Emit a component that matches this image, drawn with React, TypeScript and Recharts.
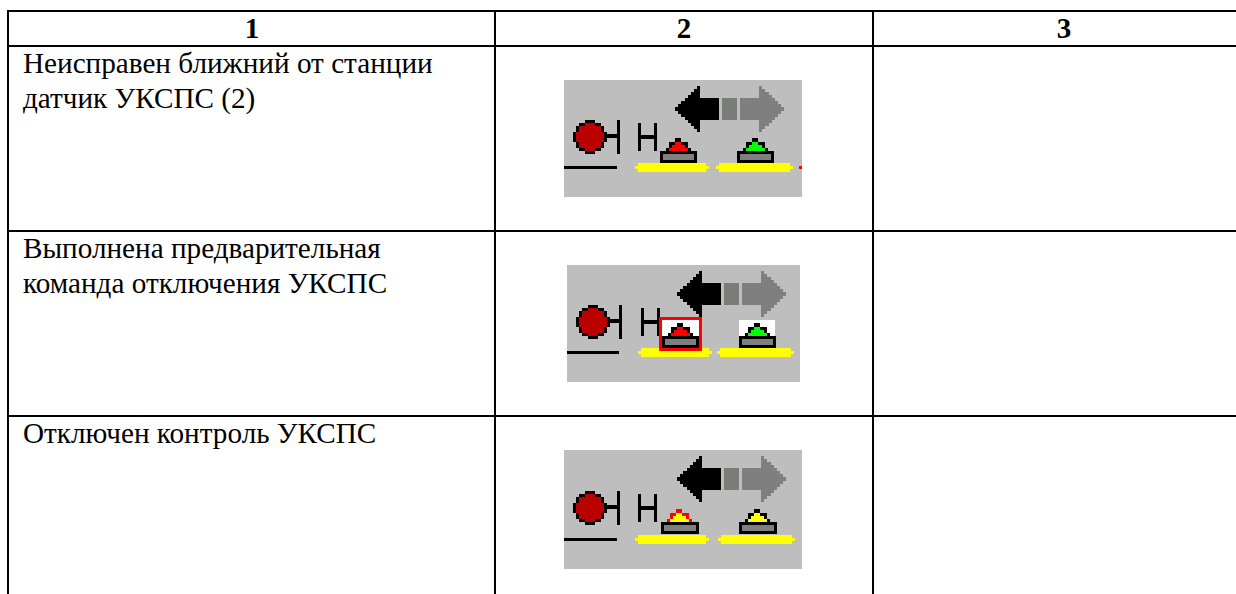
import { ComposedChart, ReferenceLine, Scatter, XAxis, YAxis } from 'recharts'

const WIDTH = 1236
const HEIGHT = 594

const columnEdges = [8, 495, 873]
const rowEdges = [11, 46, 231, 416]
const headers = ['1', '2', '3']
const headerX = [252, 684, 1064]
const headerY = [38, 38, 38]

const rowLabels = [
  'Неисправен ближний от станции',
  'датчик УКСПС (2)',
  'Выполнена предварительная',
  'команда отключения УКСПС',
  'Отключен контроль УКСПС',
]
const labelX = [23, 23, 23, 23, 23]
const labelY = [73, 107.5, 258, 292.5, 443]

const iconStates = ['fault', 'armed', 'off']
const iconX = [683, 683.5, 683]
const iconY = [138.5, 323.5, 509.5]

const headerPoints = headers.map((text, i) => ({ x: headerX[i], y: headerY[i], text }))
const labelPoints = rowLabels.map((text, i) => ({ x: labelX[i], y: labelY[i], text }))
const iconPoints = iconStates.map((state, i) => ({ x: iconX[i], y: iconY[i], state }))

const PANEL = '#bebebe'
const GRAY = '#7f7f7f'
const MID_GRAY = '#7a7c78'
const DARK_RED = '#bb0000'
const YELLOW = '#ffff00'
const RED = '#ff0000'
const GREEN = '#00ff00'

const LAMP_ROWS = [
  '....###....',
  '..##rrr##..',
  '.#rrrrrrr#.',
  '.#rrrrrrr#.',
  '#rrrrrrrrr#',
  '#rrrrrrrrr#',
  '#rrrrrrrrr#',
  '.#rrrrrrr#.',
  '.#rrrrrrr#.',
  '..##rrr##..',
  '....###....',
]

function Block({ x, y, x2, y2, fill }: { x: number; y: number; x2: number; y2: number; fill: string }) {
  return <rect x={x} y={y} width={x2 - x} height={y2 - y} fill={fill} shapeRendering="crispEdges" />
}

function Lamp({ x, y }: { x: number; y: number }) {
  const cell = 3.09
  return (
    <g>
      {LAMP_ROWS.map((row, r) =>
        row.split('').map((c, k) =>
          c === '.' ? null : (
            <rect
              key={`${r}-${k}`}
              x={x + k * cell}
              y={y + r * cell}
              width={cell + 0.3}
              height={cell + 0.3}
              fill={c === '#' ? '#000000' : DARK_RED}
              shapeRendering="crispEdges"
            />
          )
        )
      )}
    </g>
  )
}

// stepped arrow head, dir -1 points left and dir 1 points right
function ArrowHead({ base, cy, dir, fill }: { base: number; cy: number; dir: number; fill: string }) {
  const cols = [0, 1, 2, 3, 4, 5, 6, 7]
  const step = 3.1
  return (
    <g>
      {cols.map((i) => {
        const half = 23 - i * 3
        const x = dir < 0 ? base - (i + 1) * step : base + i * step
        return <Block key={i} x={x} y={cy - half} x2={x + step + 0.2} y2={cy + half} fill={fill} />
      })}
    </g>
  )
}

function Button({ x, y, w, outline, fill }: { x: number; y: number; w: number; outline: string; fill: string }) {
  const c = x + 18.5
  return (
    <g>
      <Block x={c - 3.5} y={y - 13} x2={c + 2.5} y2={y - 9} fill={outline} />
      <Block x={c - 9.5} y={y - 9} x2={c + 9.5} y2={y - 3} fill={outline} />
      <Block x={c - 12.5} y={y - 3} x2={c + 12.5} y2={y} fill={outline} />
      <Block x={c - 3.5} y={y - 9} x2={c + 2.5} y2={y - 6} fill={fill} />
      <Block x={c - 6.5} y={y - 6} x2={c + 6.5} y2={y - 3} fill={fill} />
      <Block x={c - 9.5} y={y - 3} x2={c + 9.5} y2={y} fill={fill} />
      <Block x={x} y={y} x2={x + w} y2={y + 12} fill="#000000" />
      <Block x={x + 3} y={y + 3} x2={x + w - 3} y2={y + 9} fill={GRAY} />
    </g>
  )
}

function Icon(props: any) {
  const { cx, cy, payload } = props
  const state = payload.state
  const armed = state === 'armed'
  const off = state === 'off'
  const w = armed ? 233 : 238
  const h = off ? 119 : 117
  const ox = cx - w / 2
  const oy = cy - h / 2
  // the three screenshots were scaled a little differently
  const shift = armed ? -1 : 0
  const arrowShift = off ? 2 : shift
  const b1 = off ? 97 : armed ? 95 : 96
  const b2 = off ? 175 : armed ? 172 : 173
  const bw = off ? 38 : 37
  const byBase = off ? 72 : 71
  const yellowY = off ? 85 : 83
  const y2Left = off ? 157 : armed ? 153 : 155
  const y2Right = off ? 228 : armed ? 224 : 226
  const lampDy = off ? 1 : 0

  return (
    <g transform={`translate(${ox} ${oy})`}>
      <Block x={0} y={0} x2={w} y2={h} fill={PANEL} />

      {/* direction arrows */}
      <ArrowHead base={136 + arrowShift} cy={29} dir={-1} fill="#000000" />
      <Block x={136 + arrowShift} y={18} x2={155 + arrowShift} y2={40} fill="#000000" />
      <Block x={158 + arrowShift} y={18} x2={173 + arrowShift} y2={40} fill={MID_GRAY} />
      <Block x={176 + arrowShift} y={18} x2={195 + arrowShift} y2={40} fill={GRAY} />
      <ArrowHead base={195 + arrowShift} cy={29} dir={1} fill={GRAY} />

      {/* signal */}
      <Lamp x={9} y={40 + lampDy} />
      <Block x={42 + shift} y={54 + lampDy} x2={53 + shift} y2={58 + lampDy} fill="#000000" />
      <Block x={53 + shift} y={40 + lampDy} x2={56 + shift} y2={74 + lampDy} fill="#000000" />
      <Block x={0} y={86 + lampDy * 2} x2={53 + shift} y2={89 + lampDy * 2} fill="#000000" />

      {/* H */}
      <Block x={74} y={43 + lampDy} x2={77} y2={71 + lampDy} fill="#000000" />
      <Block x={90} y={43 + lampDy} x2={93} y2={71 + lampDy} fill="#000000" />
      <Block x={74} y={55 + lampDy} x2={93} y2={59 + lampDy} fill="#000000" />

      {/* yellow track */}
      <Block x={74} y={yellowY} x2={142} y2={yellowY + 9} fill={YELLOW} />
      <Block x={71} y={yellowY + 3} x2={145} y2={yellowY + 6} fill={YELLOW} />
      <Block x={y2Left} y={yellowY} x2={y2Right} y2={yellowY + 9} fill={YELLOW} />
      <Block x={y2Left - 3} y={yellowY + 3} x2={y2Right + 3} y2={yellowY + 6} fill={YELLOW} />
      {state === 'fault' && <Block x={235} y={86} x2={238} y2={89} fill={RED} />}

      {/* white backing of the pressed buttons */}
      {armed && <Block x={b1} y={55} x2={b1 + bw} y2={71} fill="#ffffff" />}
      {armed && <Block x={b2} y={55} x2={b2 + bw - 1} y2={71} fill="#ffffff" />}

      {/* buttons */}
      <Button x={b1} y={byBase} w={bw} outline={off ? RED : '#000000'} fill={off ? YELLOW : RED} />
      <Button x={b2} y={byBase} w={bw} outline="#000000" fill={off ? YELLOW : GREEN} />

      {/* selection frame */}
      {armed && (
        <g>
          <Block x={b1 - 3} y={52} x2={b1 + bw + 3} y2={55} fill={RED} />
          <Block x={b1 - 3} y={83} x2={b1 + bw + 3} y2={86} fill={RED} />
          <Block x={b1 - 3} y={52} x2={b1} y2={86} fill={RED} />
          <Block x={b1 + bw} y={52} x2={b1 + bw + 3} y2={86} fill={RED} />
        </g>
      )}
    </g>
  )
}

function HeaderText(props: any) {
  return (
    <text x={props.cx} y={props.cy} textAnchor="middle" fontFamily="Liberation Serif" fontSize={29} fontWeight={700} fill="#000000">
      {props.payload.text}
    </text>
  )
}

function LabelText(props: any) {
  return (
    <text x={props.cx} y={props.cy} fontFamily="Liberation Serif" fontSize={29.2} fill="#000000">
      {props.payload.text}
    </text>
  )
}

export default function App() {
  return (
    <div style={{ width: WIDTH, height: HEIGHT, background: '#ffffff' }}>
      <style>{'body{margin:0}'}</style>
      <ComposedChart width={WIDTH} height={HEIGHT} margin={{ top: 0, right: 0, bottom: 0, left: 0 }}>
        <XAxis type="number" dataKey="x" domain={[0, WIDTH]} hide />
        <YAxis type="number" dataKey="y" domain={[0, HEIGHT]} reversed hide />

        {columnEdges.map((x) => (
          <ReferenceLine key={x} segment={[{ x, y: rowEdges[0] }, { x, y: HEIGHT }]} stroke="#000000" strokeWidth={2} />
        ))}
        {rowEdges.map((y) => (
          <ReferenceLine key={y} segment={[{ x: columnEdges[0] - 1, y }, { x: WIDTH, y }]} stroke="#000000" strokeWidth={2} />
        ))}

        <Scatter data={iconPoints} dataKey="y" shape={Icon} isAnimationActive={false} />
        <Scatter data={headerPoints} dataKey="y" shape={HeaderText} isAnimationActive={false} />
        <Scatter data={labelPoints} dataKey="y" shape={LabelText} isAnimationActive={false} />
      </ComposedChart>
    </div>
  )
}
